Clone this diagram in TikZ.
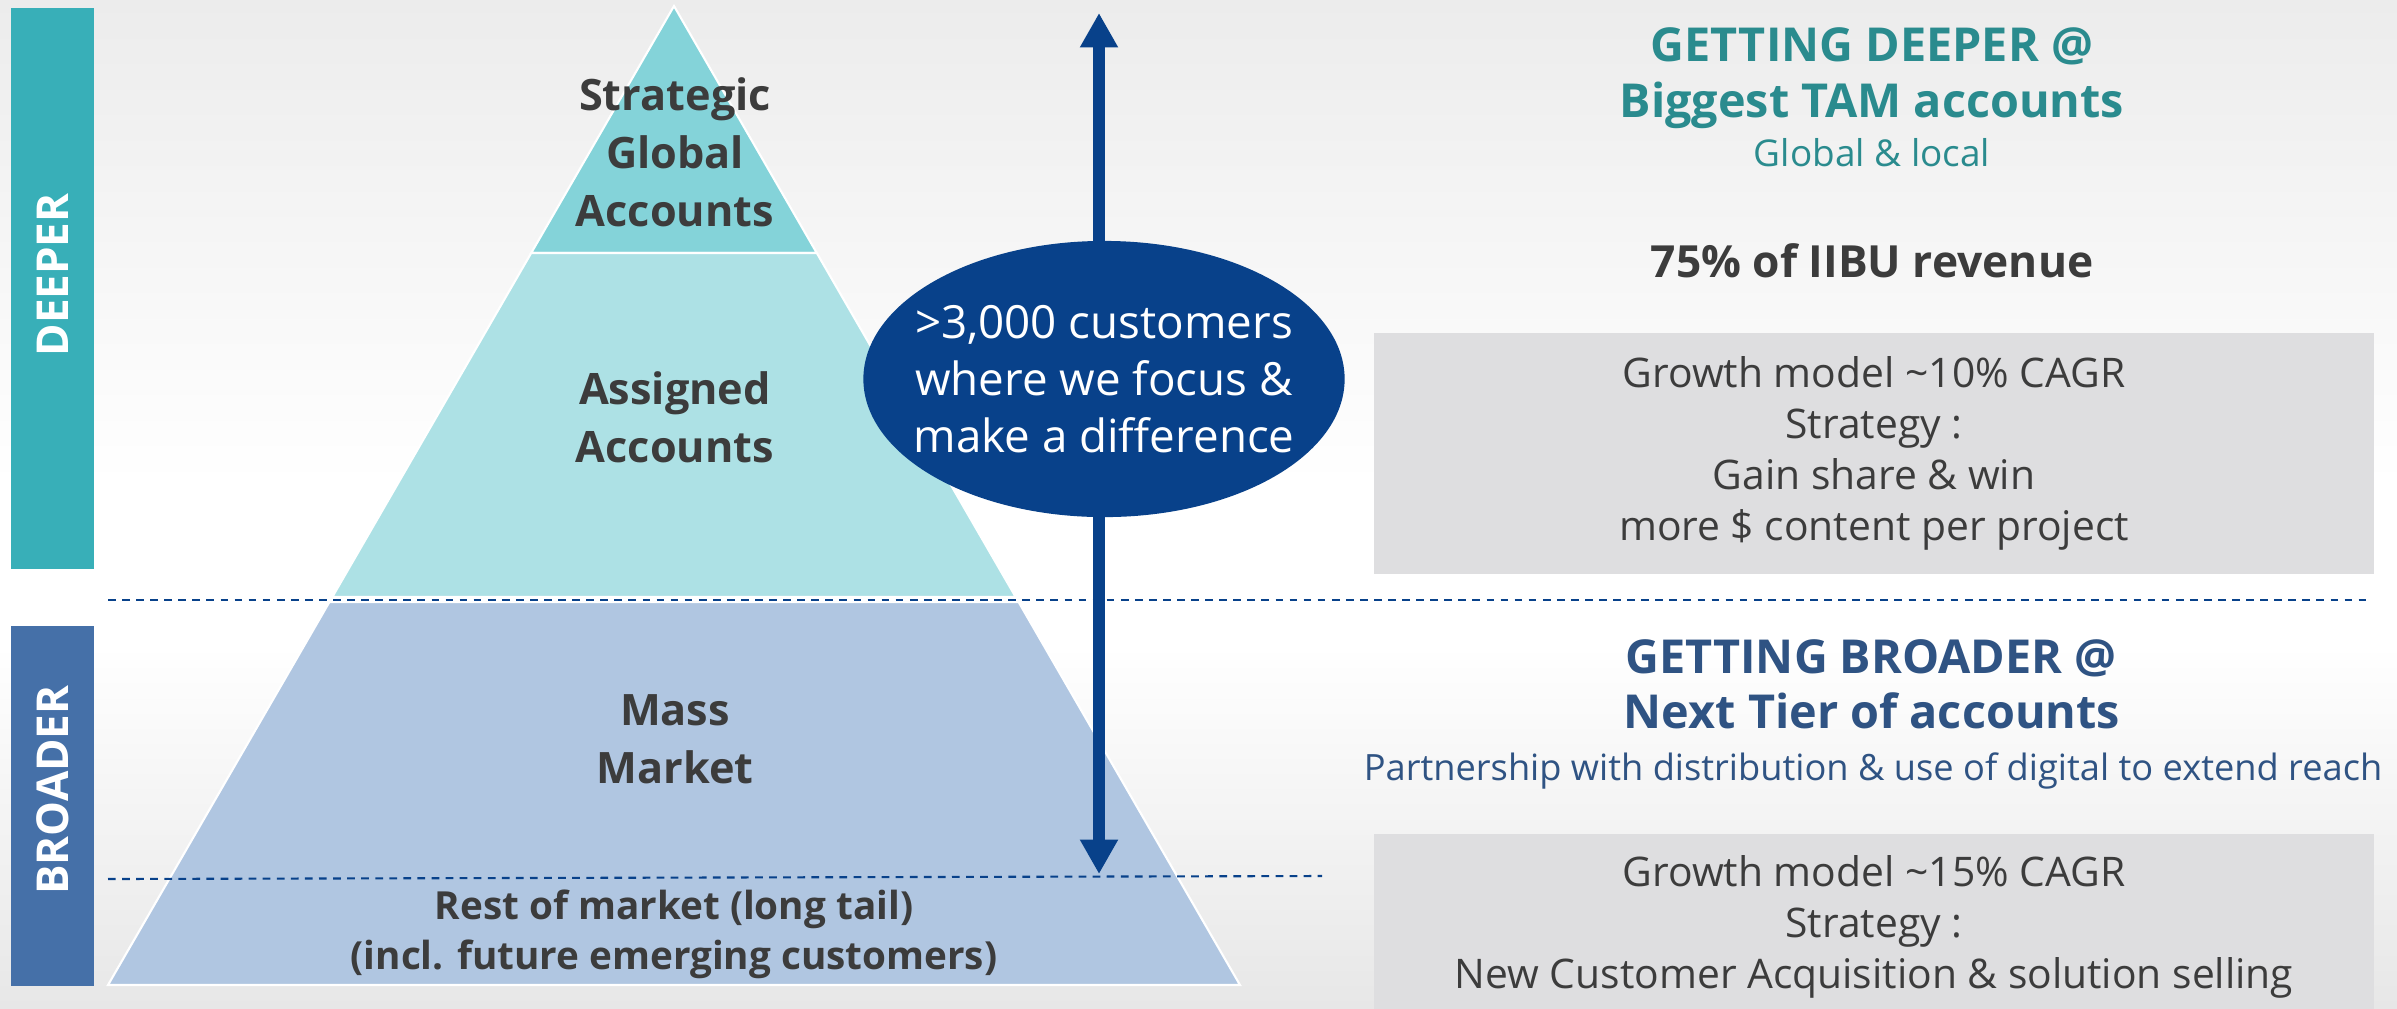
\documentclass[tikz,border=0pt]{standalone}
\usepackage{fontspec}
\setmainfont{Open Sans}
\usetikzlibrary{arrows.meta}
\definecolor{bgtop}{HTML}{ECECEC}
\definecolor{bgbot}{HTML}{E7E7E7}
\definecolor{deepbar}{HTML}{38AFB8}
\definecolor{broadbar}{HTML}{4570A8}
\definecolor{tierone}{HTML}{84D3D9}
\definecolor{tiertwo}{HTML}{ADE1E5}
\definecolor{tierthree}{HTML}{B0C6E1}
\definecolor{focusblue}{HTML}{08418A}
\definecolor{boxgray}{HTML}{DEDEE0}
\definecolor{deeptext}{HTML}{2A8B8E}
\definecolor{broadtext}{HTML}{2F5383}
\definecolor{darktext}{HTML}{3C3C3C}
\pgfdeclareverticalshading{slidefade}{100bp}{color(0bp)=(bgbot); color(25bp)=(bgbot); color(43bp)=(white); color(51bp)=(white); color(75bp)=(bgtop); color(100bp)=(bgtop)}
\tikzset{
  tier/.style={draw=white,line width=0.6pt},
  tierlabel/.style={font=\bfseries\fontsize{12.3}{16.5}\selectfont,text=darktext,align=center,inner sep=0pt},
  barlabel/.style={rotate=90,inner sep=0pt,text=white,font=\bfseries\fontsize{12.5}{15}\selectfont},
  divider/.style={draw=focusblue,line width=0.6pt,dash pattern=on 2.2pt off 1.8pt},
  infobox/.style={fill=boxgray,minimum width=10cm,inner sep=0pt,text=darktext,align=center,font=\fontsize{11.6}{14.5}\selectfont},
  headline/.style={anchor=base,inner sep=0pt,font=\bfseries\fontsize{13.3}{15}\selectfont},
  subline/.style={anchor=base,inner sep=0pt,font=\fontsize{10.5}{13}\selectfont},
}
\begin{document}
\begin{tikzpicture}[x=0.01cm,y=-0.01cm]
\clip (0,0) rectangle (2397,1008);
\shade[shading=slidefade] (0,0) rectangle (2397,1008);

\fill[deepbar] (11,8) rectangle (94,569);
\fill[broadbar] (11,626) rectangle (94,986);
\node[barlabel] (deeper) at (53,275) {DEEPER};
\node[barlabel] (broader) at (53,790) {BROADER};

\path (674,6) coordinate (apex);
\fill[tierone,tier] (apex) -- (816.8,253) -- (531.2,253) -- cycle;
\fill[tiertwo,tier] (531.2,253) -- (816.8,253) -- (1015.7,597) -- (332.3,597) -- cycle;
\fill[tierthree,tier] (329.4,602) -- (1018.6,602) -- (1240,985) -- (108,985) -- cycle;

\draw[divider] (108,600) -- (2371,600);
\draw[divider] (108,879) -- (1322,876);

\path (1099,13) coordinate (up);
\path (1099,874) coordinate (down);
\draw[focusblue,line width=3.4pt,{Triangle[width=10.2pt,length=9.8pt]}-{Triangle[width=10.2pt,length=9.8pt]}] (up) -- (down);

\path (1104,379) coordinate (focuscentre);
\fill[focusblue] (focuscentre) ellipse [x radius=2.405cm,y radius=1.38cm];
\node[inner sep=0pt,text=white,align=center,font=\fontsize{13}{16.2}\selectfont] (focus) at (focuscentre) {>3,000 customers\\where we focus \&\\make a difference};

\node[tierlabel] (strategic) at (675,152) {Strategic\\Global\\Accounts};
\node[tierlabel] (assigned) at (675,417) {Assigned\\Accounts};
\node[tierlabel] (mass) at (675,739) {Mass\\Market};
\node[tierlabel,font=\bfseries\fontsize{11}{14.2}\selectfont] (tail) at (674,934) {Rest of market (long tail)\\(incl. future emerging customers)};

\node[headline,text=deeptext] (deephead) at (1872,61) {GETTING DEEPER @};
\node[headline,text=deeptext] (deepsub) at (1872,117) {Biggest TAM accounts};
\node[subline,text=deeptext] (deepscope) at (1872,166) {Global \& local};
\node[headline,text=darktext,font=\bfseries\fontsize{12.6}{15}\selectfont] (revenue) at (1872,277) {75\% of IIBU revenue};
\node[infobox,minimum height=2.41cm] (deepbox) at (1874,453.5) {Growth model \textasciitilde10\% CAGR\\Strategy :\\Gain share \& win\\more \$ content per project};

\node[headline,text=broadtext] (broadhead) at (1871,673) {GETTING BROADER @};
\node[headline,text=broadtext] (broadsub) at (1872,728) {Next Tier of accounts};
\node[subline,text=broadtext,font=\fontsize{10.3}{13}\selectfont] (broadscope) at (1873,780) {Partnership with distribution \& use of digital to extend reach};
\node[infobox,minimum height=1.86cm] (broadbox) at (1874,927) {Growth model \textasciitilde15\% CAGR\\Strategy :\\New Customer Acquisition \& solution selling};
\end{tikzpicture}
\end{document}
